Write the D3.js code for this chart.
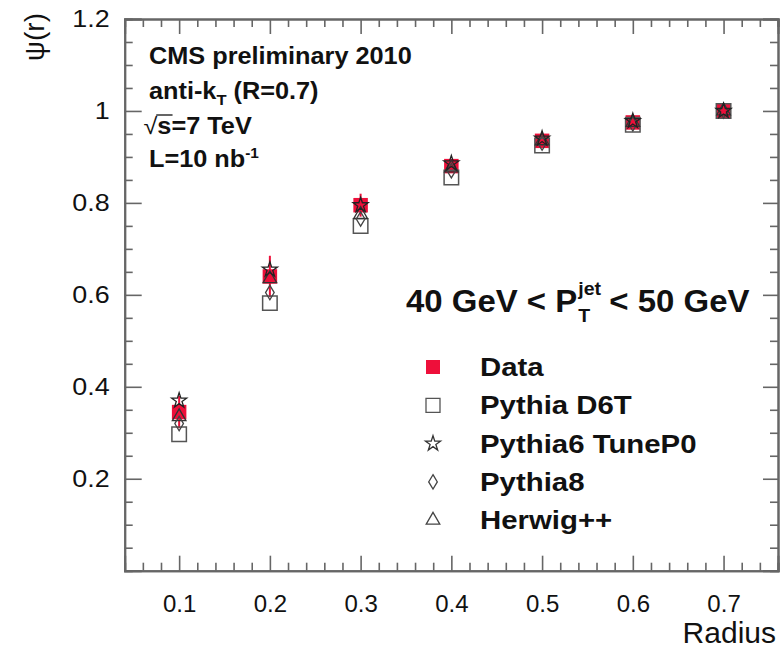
<!DOCTYPE html>
<html><head><meta charset="utf-8">
<script src="https://cdn.jsdelivr.net/npm/d3@7"></script>
<style>body{margin:0;background:#fff}svg{display:block}text{font-family:"Liberation Sans",Arial,sans-serif}</style>
</head><body>
<svg id="c" width="782" height="650"></svg>
<script>
const radius = [0.1, 0.2, 0.3, 0.4, 0.5, 0.6, 0.7];
const dataVals = [0.345, 0.640, 0.795, 0.880, 0.935, 0.975, 1.000];
const dataErr  = [0.035, 0.045, 0.025, 0.015, 0.010, 0.005, 0.002];
const d6tVals  = [0.297, 0.582, 0.750, 0.855, 0.925, 0.970, 1.000];
const p0Vals   = [0.370, 0.655, 0.795, 0.886, 0.940, 0.978, 1.000];
const p8Vals   = [0.320, 0.605, 0.765, 0.870, 0.930, 0.972, 1.000];
const hwVals   = [0.335, 0.635, 0.775, 0.876, 0.935, 0.975, 1.000];
const xTicks = [0.1, 0.2, 0.3, 0.4, 0.5, 0.6, 0.7];
const yTicks = [0, 0.2, 0.4, 0.6, 0.8, 1.0, 1.2];
const yTickLabels = ["", "0.2", "0.4", "0.6", "0.8", "1", "1.2"];
const legendNames = ["Data", "Pythia D6T", "Pythia6 TuneP0", "Pythia8", "Herwig++"];
const infoLines = ["CMS preliminary 2010", "anti-k", "s=7 TeV", "L=10 nb"];

const svg = d3.select("#c");
const L = 124.7, R = 778, T = 19, B = 570.7;
const x = d3.scaleLinear().domain([0.04, 0.76]).range([L, R]);
const y = d3.scaleLinear().domain([0, 1.2]).range([B, T]);
const axisCol = "#666";
const red = "#ee0f3a";

const xMinor = d3.range(0.04, 0.7601, 0.02).filter(v => !xTicks.some(t => Math.abs(t - v) < 1e-6));
const yMinor = d3.range(0, 1.2001, 0.05).filter(v => !yTicks.some(t => Math.abs(t - v) < 1e-6));

function styleAxis(g){ g.select(".domain").attr("stroke", axisCol).attr("stroke-width", 2);
  g.selectAll(".tick line").attr("stroke", axisCol).attr("stroke-width", 1.6);
  g.selectAll("text").attr("fill", "#111"); }

// minor ticks
svg.append("g").attr("transform", `translate(0,${B})`).call(d3.axisBottom(x).tickValues(xMinor).tickSize(-8).tickFormat("")).call(styleAxis);
svg.append("g").attr("transform", `translate(0,${T})`).call(d3.axisTop(x).tickValues(xMinor).tickSize(-8).tickFormat("")).call(styleAxis);
svg.append("g").attr("transform", `translate(${L},0)`).call(d3.axisLeft(y).tickValues(yMinor).tickSize(-8).tickFormat("")).call(styleAxis);
svg.append("g").attr("transform", `translate(${R},0)`).call(d3.axisRight(y).tickValues(yMinor).tickSize(-8).tickFormat("")).call(styleAxis);
// major ticks
const gx = svg.append("g").attr("transform", `translate(0,${B})`)
  .call(d3.axisBottom(x).tickValues(xTicks).tickSize(-15).tickPadding(24).tickFormat(d3.format(".1f"))).call(styleAxis);
gx.selectAll("text").attr("font-size", 24).attr("font-family", "Liberation Sans");
svg.append("g").attr("transform", `translate(0,${T})`).call(d3.axisTop(x).tickValues(xTicks).tickSize(-15).tickFormat("")).call(styleAxis);
const gy = svg.append("g").attr("transform", `translate(${L},0)`)
  .call(d3.axisLeft(y).tickValues(yTicks).tickSize(-17).tickPadding(15).tickFormat((d,i) => yTickLabels[i])).call(styleAxis);
gy.selectAll("text").attr("font-size", 24).attr("font-family", "Liberation Sans")
  .attr("transform", "translate(-15,0) scale(1.12,1) translate(15,0)");
svg.append("g").attr("transform", `translate(${R},0)`).call(d3.axisRight(y).tickValues(yTicks).tickSize(-15).tickFormat("")).call(styleAxis);

// axis titles
svg.append("text").attr("x", 776).attr("y", 643).attr("text-anchor", "end").attr("font-size", 30).attr("fill", "#111").text("Radius");
svg.append("text").attr("transform", "translate(44,13) rotate(-90)").attr("text-anchor", "end").attr("font-size", 28).attr("fill", "#111").text("ψ(r)");

// symbols
const narrowDiamond = { draw(ctx, size){ const h = Math.sqrt(size) * 0.9, w = h * 0.6; ctx.moveTo(0,-h); ctx.lineTo(w,0); ctx.lineTo(0,h); ctx.lineTo(-w,0); ctx.closePath(); } };
const sq = d3.symbol().type(d3.symbolSquare);
const star = d3.symbol().type(d3.symbolStar);
const tri = d3.symbol().type(d3.symbolTriangle);
const dia = d3.symbol().type(narrowDiamond);

const pts = radius.map((r, i) => ({r, v: dataVals[i], e: dataErr[i], d6t: d6tVals[i], p0: p0Vals[i], p8: p8Vals[i], hw: hwVals[i]}));
const plot = svg.append("g");
plot.selectAll("line.err").data(pts).join("line").attr("class","err")
  .attr("x1", d => x(d.r)).attr("x2", d => x(d.r)).attr("y1", d => y(d.v - d.e)).attr("y2", d => y(d.v + d.e))
  .attr("stroke", red).attr("stroke-width", 2);
plot.selectAll("path.data").data(pts).join("path").attr("class","data")
  .attr("transform", d => `translate(${x(d.r)},${y(d.v)})`).attr("d", sq.size(210)()).attr("fill", red);
plot.selectAll("path.d6t").data(pts).join("path").attr("class","d6t")
  .attr("transform", d => `translate(${x(d.r)},${y(d.d6t)})`).attr("d", sq.size(210)()).attr("fill", "none").attr("stroke", "#555").attr("stroke-width", 1.5);
plot.selectAll("path.hw").data(pts).join("path").attr("class","hw")
  .attr("transform", d => `translate(${x(d.r)},${y(d.hw)})`).attr("d", tri.size(80)()).attr("fill", "none").attr("stroke", "#333").attr("stroke-width", 1.3);
plot.selectAll("path.p8").data(pts).join("path").attr("class","p8")
  .attr("transform", d => `translate(${x(d.r)},${y(d.p8)})`).attr("d", dia.size(64)()).attr("fill", "none").attr("stroke", "#444").attr("stroke-width", 1.3);
plot.selectAll("path.p0").data(pts).join("path").attr("class","p0")
  .attr("transform", d => `translate(${x(d.r)},${y(d.p0)})`).attr("d", star.size(70)()).attr("fill", "none").attr("stroke", "#222").attr("stroke-width", 1.3);

// info text
const info = svg.append("g").attr("transform", "translate(149,0) scale(1.1,1)")
  .attr("font-weight", "bold").attr("font-size", 23).attr("fill", "#111");
const ib = [64, 99, 134, 167];
info.append("text").attr("x", 0).attr("y", ib[0]).text(infoLines[0]);
const t2 = info.append("text").attr("x", 0).attr("y", ib[1]);
t2.append("tspan").text(infoLines[1]);
t2.append("tspan").attr("font-size", 15).attr("dy", 6).text("T");
t2.append("tspan").attr("dy", -6).text(" (R=0.7)");
const t3 = info.append("text").attr("x", -5).attr("y", ib[2]);
t3.append("tspan").attr("font-weight", "normal").text("√");
t3.append("tspan").text(infoLines[2]);
const rootW = t3.node().getSubStringLength(0, 1), sW = t3.node().getSubStringLength(1, 1);
info.append("line").attr("x1", -5 + rootW - 1).attr("x2", -5 + rootW + sW + 1).attr("y1", ib[2] - 19).attr("y2", ib[2] - 19).attr("stroke", "#111").attr("stroke-width", 1.3);
const t4 = info.append("text").attr("x", 0).attr("y", ib[3]);
t4.append("tspan").text(infoLines[3]);
t4.append("tspan").attr("font-size", 14).attr("dy", -9).text("-1");

// pT label
const pg = svg.append("g").attr("transform", "translate(406,0) scale(1.03,1)").attr("font-weight", "bold").attr("fill", "#111");
const pb = 312;
const p1 = pg.append("text").attr("x", 0).attr("y", pb).attr("font-size", 32).text("40 GeV < P");
const w1 = p1.node().getComputedTextLength();
const sup = pg.append("text").attr("x", w1 + 1).attr("y", pb - 17).attr("font-size", 19).text("jet");
pg.append("text").attr("x", w1 + 1).attr("y", pb + 10).attr("font-size", 19).text("T");
const ws = sup.node().getComputedTextLength();
pg.append("text").attr("x", w1 + ws + 9).attr("y", pb).attr("font-size", 32).text("< 50 GeV");

// legend
const legY = d => 367 + d * 38.3;
const lg = svg.append("g");
const legSyms = [
  {d: sq.size(196)(), fill: red, stroke: "none"},
  {d: sq.size(196)(), fill: "none", stroke: "#555"},
  {d: star.size(70)(), fill: "none", stroke: "#333"},
  {d: dia.size(64)(), fill: "none", stroke: "#444"},
  {d: tri.size(80)(), fill: "none", stroke: "#444"}
];
legendNames.forEach((n, i) => {
  lg.append("path").attr("transform", `translate(433,${legY(i)})`).attr("d", legSyms[i].d)
    .attr("fill", legSyms[i].fill).attr("stroke", legSyms[i].stroke).attr("stroke-width", 1.3);
  lg.append("text").attr("transform", `translate(480,${legY(i) + 9}) scale(1.13,1)`)
    .attr("font-size", 26).attr("font-weight", "bold").attr("fill", "#111").text(n);
});
</script>
</body></html>
